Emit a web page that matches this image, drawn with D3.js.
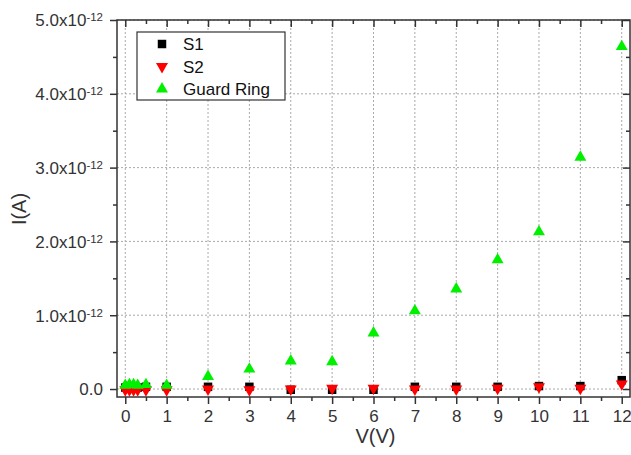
<!DOCTYPE html>
<html>
<head>
<meta charset="utf-8">
<script src="https://cdn.jsdelivr.net/npm/d3@7"></script>
<style>
  body { margin: 0; background: #fff; }
  svg { display: block; font-family: Arial, "Liberation Sans", sans-serif; }
</style>
</head>
<body>
<div id="chart"></div>
<script>
// Data (current in units of 1e-12 A)
const voltage = [0, 0.1, 0.2, 0.3, 0.5, 1, 2, 3, 4, 5, 6, 7, 8, 9, 10, 11, 12];
const s1 = [0.02, 0.02, 0.02, 0.02, 0.03, 0.03, 0.03, 0.03, -0.01, -0.01, -0.01, 0.03, 0.03, 0.03, 0.04, 0.04, 0.12];
const s2 = [-0.01, -0.01, -0.01, -0.01, -0.01, -0.01, 0.0, -0.01, 0.0, 0.01, 0.01, 0.0, 0.0, 0.01, 0.03, 0.01, 0.07];
const guard = [0.05, 0.06, 0.06, 0.05, 0.06, 0.05, 0.17, 0.27, 0.38, 0.37, 0.76, 1.06, 1.355, 1.75, 2.13, 3.14, 4.64];
const xTicks = [0, 1, 2, 3, 4, 5, 6, 7, 8, 9, 10, 11, 12];
const yTicks = [0, 1, 2, 3, 4, 5];
const seriesNames = ['S1', 'S2', 'Guard Ring'];

const width = 631;
const height = 455;
const margin = { top: 20, right: 1, bottom: 58, left: 117 };

const svg = d3.select('#chart')
  .append('svg')
  .attr('width', width)
  .attr('height', height);

const x = d3.scaleLinear()
  .domain([-0.2, 12.2])
  .range([margin.left, width - margin.right]);

const y = d3.scaleLinear()
  .domain([-0.108, 5])
  .range([height - margin.bottom, margin.top]);

const x0 = margin.left, x1 = width - margin.right;
const y0 = height - margin.bottom, y1 = margin.top;

// Grid lines
svg.append('g')
  .selectAll('line')
  .data(xTicks)
  .enter()
  .append('line')
  .attr('x1', (d) => x(d)).attr('x2', (d) => x(d))
  .attr('y1', y1).attr('y2', y0)
  .attr('stroke', '#aaa')
  .attr('stroke-dasharray', '2,2');

svg.append('g')
  .selectAll('line')
  .data(yTicks)
  .enter()
  .append('line')
  .attr('x1', x0).attr('x2', x1)
  .attr('y1', (d) => y(d)).attr('y2', (d) => y(d))
  .attr('stroke', '#aaa')
  .attr('stroke-dasharray', '2,2');

// Axes: bottom/left outward, top/right inward
const minorX = d3.range(0.5, 12, 1);
const minorY = d3.range(0.5, 5, 1);
const axisColor = '#333';

function styleAxis(g) {
  g.select('.domain').remove();
  g.selectAll('.tick line').attr('stroke', axisColor).attr('stroke-width', 1.5);
  g.selectAll('.tick text').attr('fill', '#333').attr('font-size', 17);
}

svg.append('g')
  .attr('transform', `translate(0,${y0})`)
  .call(d3.axisBottom(x).tickValues(xTicks).tickSize(7).tickPadding(6).tickFormat(d3.format('d')))
  .call(styleAxis);
svg.append('g')
  .attr('transform', `translate(0,${y0})`)
  .call(d3.axisBottom(x).tickValues(minorX).tickSize(4).tickFormat(''))
  .call(styleAxis);

svg.append('g')
  .attr('transform', `translate(0,${y1})`)
  .call(d3.axisBottom(x).tickValues(xTicks).tickSize(7).tickFormat(''))
  .call(styleAxis);
svg.append('g')
  .attr('transform', `translate(0,${y1})`)
  .call(d3.axisBottom(x).tickValues(minorX).tickSize(4).tickFormat(''))
  .call(styleAxis);

const yAxis = svg.append('g')
  .attr('transform', `translate(${x0},0)`)
  .call(d3.axisLeft(y).tickValues(yTicks).tickSize(7).tickPadding(7).tickFormat(''))
  .call(styleAxis);
svg.append('g')
  .attr('transform', `translate(${x0},0)`)
  .call(d3.axisLeft(y).tickValues(minorY).tickSize(4).tickFormat(''))
  .call(styleAxis);

svg.append('g')
  .attr('transform', `translate(${x1},0)`)
  .call(d3.axisRight(y).tickValues(yTicks).tickSize(-7).tickFormat(''))
  .call(styleAxis);
svg.append('g')
  .attr('transform', `translate(${x1},0)`)
  .call(d3.axisRight(y).tickValues(minorY).tickSize(-4).tickFormat(''))
  .call(styleAxis);

// Y tick labels with superscript exponent
yAxis.selectAll('.tick').each(function (d) {
  const t = d3.select(this).select('text')
    .attr('x', -14)
    .attr('dy', '0.35em')
    .attr('font-size', 17)
    .attr('text-anchor', 'end');
  if (d === 0) {
    t.text('0.0');
  } else {
    t.text(null);
    t.append('tspan').text(d.toFixed(1) + 'x10');
    t.append('tspan').attr('dy', '-0.45em').attr('font-size', 11.5).text('-12');
  }
});

// Frame
svg.append('rect')
  .attr('x', x0).attr('y', y1)
  .attr('width', x1 - x0).attr('height', y0 - y1)
  .attr('fill', 'none')
  .attr('stroke', axisColor)
  .attr('stroke-width', 1.5);

// Markers
const square = d3.symbol().type(d3.symbolSquare).size(72);
const tri = d3.symbol().type(d3.symbolTriangle).size(62);

const series = [
  { name: seriesNames[0], values: s1, path: square(), color: '#000', rot: 0 },
  { name: seriesNames[1], values: s2, path: tri(), color: '#ff0000', rot: 180 },
  { name: seriesNames[2], values: guard, path: tri(), color: '#00f000', rot: 0 }
];

series.forEach((s) => {
  svg.append('g')
    .selectAll('path')
    .data(voltage.map((v, i) => [v, s.values[i]]))
    .enter()
    .append('path')
    .attr('d', s.path)
    .attr('transform', (d) => `translate(${x(d[0])},${y(d[1])}) rotate(${s.rot})`)
    .attr('fill', s.color);
});

// Legend
const legend = svg.append('g').attr('transform', 'translate(137,32)');
legend.append('rect')
  .attr('width', 148).attr('height', 68)
  .attr('fill', '#fff')
  .attr('stroke', '#333')
  .attr('stroke-width', 1.2);
series.forEach((s, i) => {
  const ly = 12 + i * 22.5;
  legend.append('path')
    .attr('d', s.path)
    .attr('transform', `translate(25,${ly}) rotate(${s.rot})`)
    .attr('fill', s.color);
  legend.append('text')
    .attr('x', 46).attr('y', ly)
    .attr('dy', '0.36em')
    .attr('font-size', 17)
    .attr('fill', '#111')
    .text(s.name);
});

// Axis titles
svg.append('text')
  .attr('x', (x0 + x1) / 2 + 2)
  .attr('y', 443)
  .attr('text-anchor', 'middle')
  .attr('font-size', 20)
  .attr('fill', '#333')
  .text('V(V)');

svg.append('text')
  .attr('transform', 'translate(26,209) rotate(-90)')
  .attr('text-anchor', 'middle')
  .attr('font-size', 20)
  .attr('fill', '#333')
  .text('I(A)');
</script>
</body>
</html>
